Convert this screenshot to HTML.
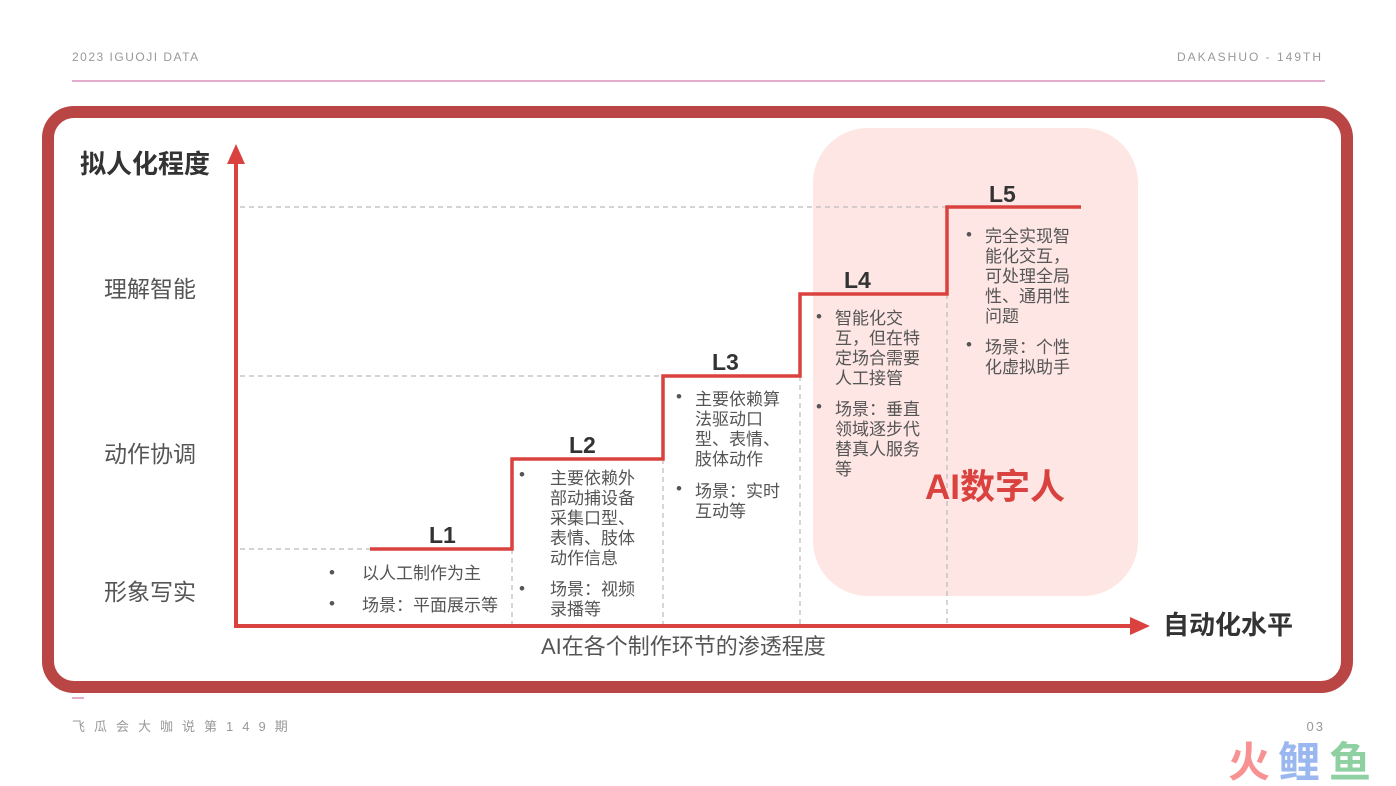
<!DOCTYPE html>
<html><head><meta charset="utf-8"><style>
html,body{margin:0;padding:0;background:#fff;}
svg{display:block;}
text{font-family:"Liberation Sans","Noto Sans CJK SC",sans-serif;}
</style></head><body>
<svg width="1396" height="786" viewBox="0 0 1396 786" xmlns="http://www.w3.org/2000/svg">
<text x="72" y="61" font-size="12" fill="#999" letter-spacing="1.5">2023  IGUOJI DATA</text>
<text x="1323" y="61" font-size="12" fill="#999" letter-spacing="2" text-anchor="end">DAKASHUO - 149TH</text>
<line x1="72" y1="81" x2="1325" y2="81" stroke="#c75a98" stroke-width="1"/>

<rect x="48" y="112" width="1299" height="575" rx="26" fill="#fff" stroke="#b94545" stroke-width="12"/>
<rect x="813" y="128" width="325" height="468" rx="55" fill="#fde6e3"/>

<g stroke="#bbb" stroke-width="1.2" stroke-dasharray="5,4" fill="none">
<line x1="240" y1="207" x2="947" y2="207"/>
<line x1="240" y1="376" x2="663" y2="376"/>
<line x1="240" y1="549" x2="370" y2="549"/>
<line x1="512" y1="549" x2="512" y2="626"/>
<line x1="663" y1="459" x2="663" y2="626"/>
<line x1="800" y1="376" x2="800" y2="626"/>
<line x1="947" y1="294" x2="947" y2="626"/>
</g>

<line x1="236" y1="626" x2="236" y2="160" stroke="#d9423f" stroke-width="4"/>
<polygon points="236,144 227,164 245,164" fill="#d9423f"/>
<line x1="234" y1="626" x2="1132" y2="626" stroke="#d9423f" stroke-width="4"/>
<polygon points="1150,626 1130,617 1130,635" fill="#d9423f"/>

<polyline points="370,549 512,549 512,459 663,459 663,376 800,376 800,294 947,294 947,207 1081,207" fill="none" stroke="#d9423f" stroke-width="3.5"/>

<text x="80" y="173" font-size="26" font-weight="bold" fill="#333">拟人化程度</text>
<text x="104" y="297" font-size="23" fill="#555">理解智能</text>
<text x="104" y="462" font-size="23" fill="#555">动作协调</text>
<text x="104" y="600" font-size="23" fill="#555">形象写实</text>
<text x="1163" y="634" font-size="26" font-weight="bold" fill="#333">自动化水平</text>
<text x="541" y="654" font-size="22" fill="#555">AI在各个制作环节的渗透程度</text>

<g font-size="23" font-weight="bold" fill="#333">
<text x="429" y="543">L1</text>
<text x="569" y="453">L2</text>
<text x="712" y="370">L3</text>
<text x="844" y="288">L4</text>
<text x="989" y="202">L5</text>
</g>

<g font-size="17" fill="#555">
<text x="329" y="578">•</text><text x="362" y="579">以人工制作为主</text>
<text x="329" y="609">•</text><text x="362" y="611">场景：平面展示等</text>

<text x="519" y="480">•</text>
<text x="550" y="484">主要依赖外</text><text x="550" y="504">部动捕设备</text><text x="550" y="524">采集口型、</text><text x="550" y="544">表情、肢体</text><text x="550" y="564">动作信息</text>
<text x="519" y="594">•</text>
<text x="550" y="595">场景：视频</text><text x="550" y="615">录播等</text>

<text x="676" y="402">•</text>
<text x="695" y="405">主要依赖算</text><text x="695" y="425">法驱动口</text><text x="695" y="445">型、表情、</text><text x="695" y="465">肢体动作</text>
<text x="676" y="494">•</text>
<text x="695" y="497">场景：实时</text><text x="695" y="517">互动等</text>

<text x="816" y="322">•</text>
<text x="835" y="324">智能化交</text><text x="835" y="344">互，但在特</text><text x="835" y="364">定场合需要</text><text x="835" y="384">人工接管</text>
<text x="816" y="412">•</text>
<text x="835" y="415">场景：垂直</text><text x="835" y="435">领域逐步代</text><text x="835" y="455">替真人服务</text><text x="835" y="475">等</text>

<text x="966" y="240">•</text>
<text x="985" y="242">完全实现智</text><text x="985" y="262">能化交互，</text><text x="985" y="282">可处理全局</text><text x="985" y="302">性、通用性</text><text x="985" y="322">问题</text>
<text x="966" y="350">•</text>
<text x="985" y="353">场景：个性</text><text x="985" y="373">化虚拟助手</text>
</g>

<text x="925" y="499" font-size="35" font-weight="bold" fill="#d9423f">AI数字人</text>

<line x1="72" y1="698" x2="84" y2="698" stroke="#c75a98" stroke-width="1"/>
<text x="72" y="731" font-size="13" fill="#999" letter-spacing="9">飞瓜会大咖说第149期</text>
<text x="1325" y="731" font-size="13" fill="#999" letter-spacing="2" text-anchor="end">03</text>

<text x="1228" y="777" font-size="42" font-weight="bold" fill="#f89191">火</text>
<text x="1278" y="777" font-size="42" font-weight="bold" fill="#9ab8ef">鲤</text>
<text x="1329" y="777" font-size="42" font-weight="bold" fill="#8fd0a2">鱼</text>
</svg>
</body></html>
